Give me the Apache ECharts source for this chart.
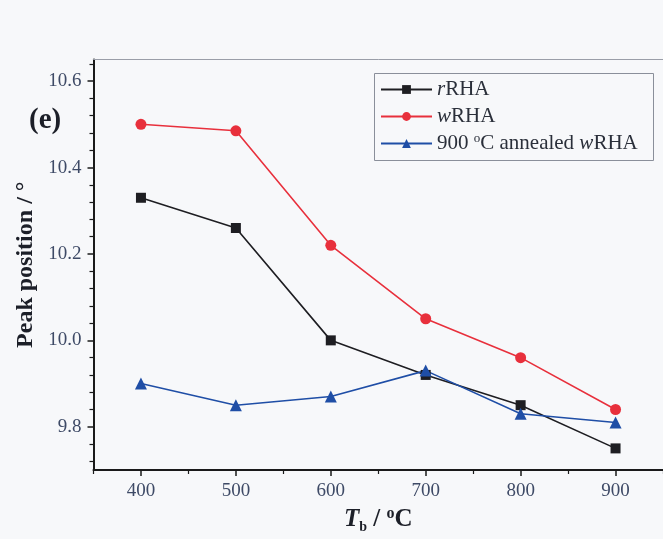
<!DOCTYPE html>
<html>
<head>
<meta charset="utf-8">
<script src="https://cdn.jsdelivr.net/npm/echarts@6/dist/echarts.min.js"></script>
<style>
  html, body { margin: 0; padding: 0; background: #f7f8fa; }
  #main { width: 663px; height: 539px; }
</style>
</head>
<body>
<div id="main"></div>
<script>
// 数据
var temps = [400, 500, 600, 700, 800, 900];
var rRHA = [10.33, 10.26, 10.00, 9.92, 9.85, 9.75];
var wRHA = [10.50, 10.485, 10.22, 10.05, 9.96, 9.84];
var annealedRHA = [9.90, 9.85, 9.87, 9.93, 9.83, 9.81];
var xMajor = [400, 500, 600, 700, 800, 900];
var xMinor = [350, 450, 550, 650, 750, 850, 950];
var yMajor = [9.8, 10.0, 10.2, 10.4, 10.6];
var yMinor = [9.72, 9.76, 9.84, 9.88, 9.92, 9.96, 10.04, 10.08, 10.12, 10.16,
  10.24, 10.28, 10.32, 10.36, 10.44, 10.48, 10.52, 10.56, 10.64];

function pairs(ys) {
  return temps.map(function (t, i) { return [t, ys[i]]; });
}

var serif = 'Liberation Serif';
var labelColor = '#3e4a66';
var titleColor = '#1c1f28';

var myChart = echarts.init(document.getElementById('main'));
myChart.setOption({
  backgroundColor: '#f7f8fa',
  animation: false,
  grid: { left: 93.5, top: 59.5, right: -1.6, bottom: 69 },
  graphic: [
    {
      type: 'text', left: 29, top: 106,
      style: { text: '(e)', font: 'bold 29px "Liberation Serif"', fill: '#1c1f28' }
    },
    {
      type: 'rect', left: 372, top: 71,
      shape: { width: 279, height: 87 },
      style: { fill: 'none', stroke: '#8a8f9a', lineWidth: 1 }
    }
  ],
  legend: {
    orient: 'vertical',
    left: 372, top: 76,
    padding: [2, 8, 2, 8],
    itemWidth: 51, itemHeight: 11, itemGap: 4,
    data: ['rRHA', 'wRHA', 'annealed'],
    formatter: function (name) {
      if (name === 'rRHA') return '{i|r}RHA';
      if (name === 'wRHA') return '{i|w}RHA';
      return '900 {s|o}C annealed {i|w}RHA';
    },
    textStyle: {
      fontFamily: serif, fontSize: 21, color: '#2a2f3a', lineHeight: 23,
      rich: {
        i: { fontFamily: serif, fontStyle: 'italic', fontSize: 21, color: '#2a2f3a' },
        s: { fontFamily: serif, fontSize: 13, color: '#2a2f3a', verticalAlign: 'top', padding: [0, 0, 10, 0] }
      }
    }
  },
  xAxis: [
    {
      type: 'value', min: 350, max: 950, position: 'bottom',
      name: '{t|T}{b|b}{n| / }{s|o}{n|C}',
      nameLocation: 'middle', nameGap: 36,
      nameTextStyle: {
        rich: {
          t: { fontFamily: serif, fontWeight: 'bold', fontStyle: 'italic', fontSize: 25, color: titleColor },
          b: { fontFamily: serif, fontWeight: 'bold', fontSize: 14, color: titleColor, verticalAlign: 'bottom', padding: [14, 0, 0, 0] },
          n: { fontFamily: serif, fontWeight: 'bold', fontSize: 25, color: titleColor },
          s: { fontFamily: serif, fontWeight: 'bold', fontSize: 16, color: titleColor, verticalAlign: 'top', padding: [0, 0, 11, 0] }
        }
      },
      axisLine: { show: true, lineStyle: { color: '#1a1a1a', width: 2 } },
      axisTick: { show: true, length: 6, customValues: xMajor, lineStyle: { color: '#1a1a1a', width: 1.5 } },
      axisLabel: { customValues: xMajor, margin: 12, fontFamily: serif, fontSize: 19, color: labelColor },
      splitLine: { show: false }
    },
    {
      type: 'value', min: 350, max: 950, position: 'bottom',
      axisLine: { show: false },
      axisTick: { show: true, length: 4, customValues: xMinor, lineStyle: { color: '#1a1a1a', width: 1.2 } },
      axisLabel: { show: false },
      splitLine: { show: false }
    },
    {
      type: 'value', min: 350, max: 950, position: 'top',
      axisLine: { show: true, lineStyle: { color: '#9a9ea8', width: 1 } },
      axisTick: { show: false }, axisLabel: { show: false }, splitLine: { show: false }
    }
  ],
  yAxis: [
    {
      type: 'value', min: 9.7, max: 10.65, position: 'left',
      name: 'Peak position / °',
      nameLocation: 'middle', nameGap: 55, nameRotate: 90,
      nameTextStyle: { fontFamily: serif, fontWeight: 'bold', fontSize: 24, color: titleColor },
      axisLine: { show: true, lineStyle: { color: '#1a1a1a', width: 2 } },
      axisTick: { show: true, length: 6, customValues: yMajor, lineStyle: { color: '#1a1a1a', width: 1.5 } },
      axisLabel: {
        customValues: yMajor, margin: 12, fontFamily: serif, fontSize: 19, color: labelColor,
        formatter: function (v) { return v.toFixed(1); }
      },
      splitLine: { show: false }
    },
    {
      type: 'value', min: 9.7, max: 10.65, position: 'left',
      axisLine: { show: false },
      axisTick: { show: true, length: 4, customValues: yMinor, lineStyle: { color: '#1a1a1a', width: 1.2 } },
      axisLabel: { show: false },
      splitLine: { show: false }
    },
    {
      type: 'value', min: 9.7, max: 10.65, position: 'right',
      axisLine: { show: true, lineStyle: { color: '#9a9ea8', width: 1 } },
      axisTick: { show: false }, axisLabel: { show: false }, splitLine: { show: false }
    }
  ],
  series: [
    {
      name: 'rRHA', type: 'line', data: pairs(rRHA),
      symbol: 'rect', symbolSize: 10,
      lineStyle: { color: '#1e1e22', width: 1.6 },
      itemStyle: { color: '#1e1e22' }
    },
    {
      name: 'wRHA', type: 'line', data: pairs(wRHA),
      symbol: 'circle', symbolSize: 11,
      lineStyle: { color: '#e8303c', width: 1.6 },
      itemStyle: { color: '#e8303c' }
    },
    {
      name: 'annealed', type: 'line', data: pairs(annealedRHA),
      symbol: 'triangle', symbolSize: 12,
      lineStyle: { color: '#1f4ea6', width: 1.6 },
      itemStyle: { color: '#1f4ea6' }
    }
  ]
});
</script>
</body>
</html>
